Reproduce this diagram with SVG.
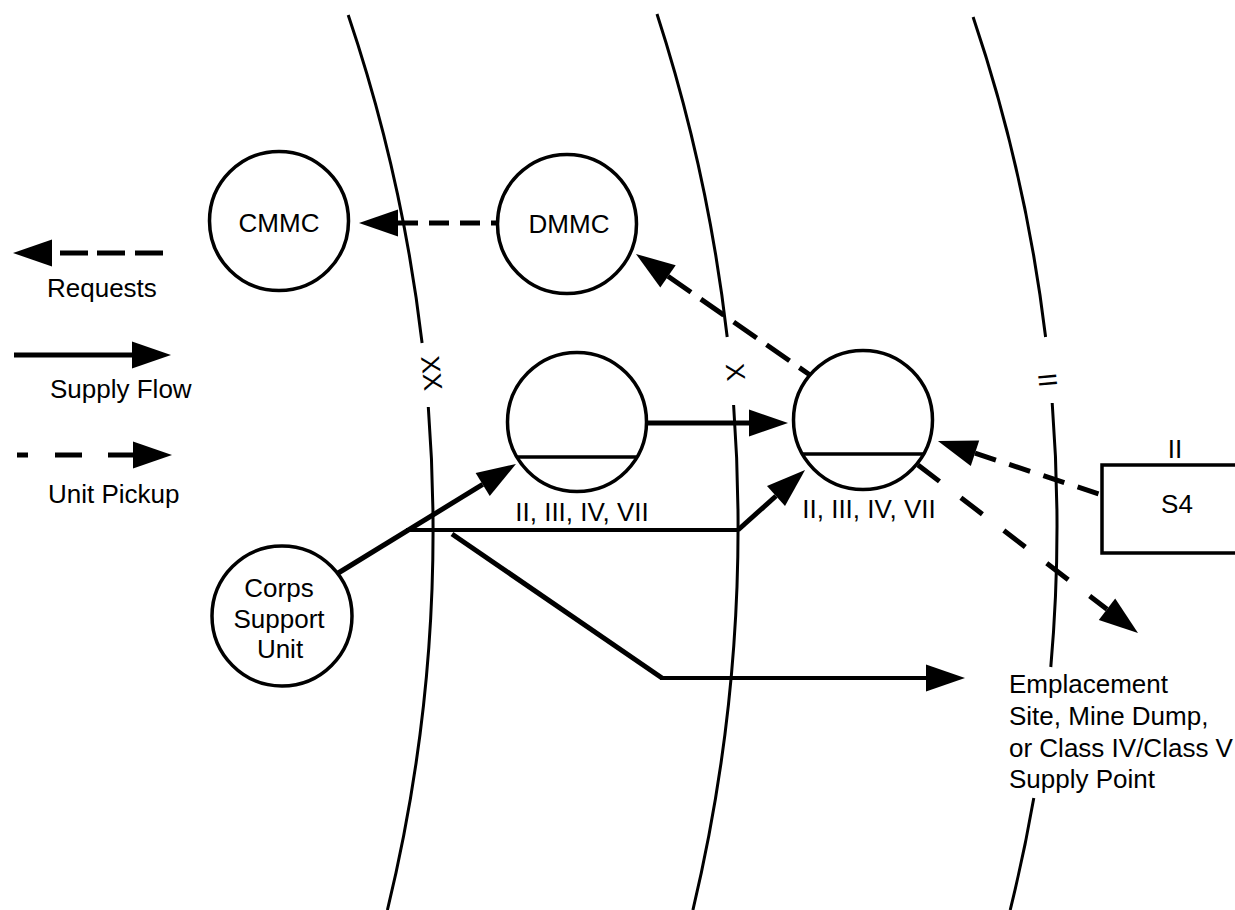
<svg xmlns="http://www.w3.org/2000/svg" xmlns:xlink="http://www.w3.org/1999/xlink" width="1235" height="910" viewBox="0 0 1235 910">
<defs>
<style>
.bg{fill:#fff}
.arc{fill:none;stroke:#000;stroke-width:3}
.node{fill:#fff;stroke:#000;stroke-width:3.5}
.chord{stroke:#000;stroke-width:3.5}
.ln{fill:none;stroke:#000;stroke-width:5}
.thin{fill:none;stroke:#000;stroke-width:4}
.dsh{fill:none;stroke:#000;stroke-width:5}
.t{font-family:"Liberation Sans",Arial,Helvetica,sans-serif;font-size:26px;fill:#000}
.m{text-anchor:middle}
.box{fill:#fff;stroke:#000;stroke-width:3.5}
</style>
<path id="ah" d="M0,-13.5 L39,0 L0,13.5 Z" fill="#000"/>
</defs>
<rect class="bg" x="0" y="0" width="1235" height="910"/>

<g id="boundaries">
<path class="arc" d="M348.2,15 A1607,1607 0 0 1 422.1,343 M428.3,407 A1607,1607 0 0 1 387.4,910"/>
<path class="arc" d="M657,14 A1658,1658 0 0 1 727.2,337 M733.6,405 A1658,1658 0 0 1 692.9,910"/>
<path class="arc" d="M973.1,17 A1592,1592 0 0 1 1045.6,337 M1052.2,403 A1592,1592 0 0 1 1050.8,667 M1033.8,798 A1592,1592 0 0 1 1010.2,910"/>
<text class="t m" font-size="30" transform="translate(432,373) rotate(84.4)" dy="0.36em">XX</text>
<text class="t m" font-size="28" transform="translate(736,372) rotate(84.7)" dy="0.36em">X</text>
<text class="t m" font-size="32" transform="translate(1048,380) rotate(84.7)" dy="0.36em">II</text>
</g>

<g id="legend">
<path class="dsh" d="M60,253 H88 M97,253 H125 M135,253 H163"/>
<use xlink:href="#ah" transform="translate(52,253) rotate(180)"/>
<text class="t" x="47" y="297">Requests</text>
<path class="ln" d="M14,355 H132"/>
<use xlink:href="#ah" transform="translate(132,355)"/>
<text class="t" x="50" y="398">Supply Flow</text>
<path class="dsh" d="M17,455 H28 M55,455 H82 M108,455 H133"/>
<use xlink:href="#ah" transform="translate(133,455)"/>
<text class="t" x="48" y="503">Unit Pickup</text>
</g>

<g id="connectors">
<path class="dsh" d="M398,223 L498,223" stroke-dasharray="20 11"/>
<use xlink:href="#ah" transform="translate(398,223) rotate(180)"/>
<path class="dsh" d="M668,276.3 L810,375" stroke-dasharray="28 12"/>
<use xlink:href="#ah" transform="translate(668,276.3) rotate(214.8)"/>
<path class="ln" d="M646,423 H749"/>
<use xlink:href="#ah" transform="translate(749,423)"/>
<path class="ln" d="M335,575 L482.7,484.4"/>
<use xlink:href="#ah" transform="translate(482.7,484.4) rotate(-31.5)"/>
<path class="thin" d="M406,530 H738"/>
<path class="ln" d="M738,530 L776,496"/>
<use xlink:href="#ah" transform="translate(776,496) rotate(-41.8)"/>
<path class="ln" d="M452,534 L662,678"/>
<path class="thin" d="M660,678 H926"/>
<use xlink:href="#ah" transform="translate(926,678)"/>
<path class="dsh" d="M975,453.2 L1102,495" stroke-dasharray="22 14"/>
<use xlink:href="#ah" transform="translate(975,453.2) rotate(198.2)"/>
<path class="dsh" d="M918,465 L1107,609.3" stroke-dasharray="27 27"/>
<use xlink:href="#ah" transform="translate(1107,609.3) rotate(37.4)"/>
</g>

<g id="cmmc">
<circle class="node" cx="279" cy="221" r="69.5"/>
<text class="t m" x="279" y="232">CMMC</text>
</g>

<g id="dmmc">
<circle class="node" cx="567" cy="224" r="69.5"/>
<text class="t m" x="569" y="233">DMMC</text>
</g>

<g id="div-supply">
<circle class="node" cx="577" cy="422" r="69.5"/>
<line class="chord" x1="517.5" y1="457" x2="636.5" y2="457"/>
<text class="t m" x="582" y="521">II, III, IV, VII</text>
</g>

<g id="bde-supply">
<circle class="node" cx="863" cy="420" r="69.5"/>
<line class="chord" x1="803" y1="454" x2="923" y2="454"/>
<text class="t m" x="869" y="518">II, III, IV, VII</text>
</g>

<g id="corps-support">
<circle class="node" cx="282" cy="616" r="70"/>
<text class="t m" x="279" y="597">Corps</text>
<text class="t m" x="279" y="628">Support</text>
<text class="t m" x="280" y="658">Unit</text>
</g>

<g id="s4">
<rect class="box" x="1102" y="465" width="150" height="88"/>
<text class="t m" x="1177" y="513">S4</text>
<text class="t m" font-size="28" x="1175" y="458">II</text>
</g>

<g id="emplacement">
<text class="t" x="1009" y="693">Emplacement</text>
<text class="t" x="1009" y="725">Site, Mine Dump,</text>
<text class="t" x="1009" y="757">or Class IV/Class V</text>
<text class="t" x="1009" y="788">Supply Point</text>
</g>
</svg>
